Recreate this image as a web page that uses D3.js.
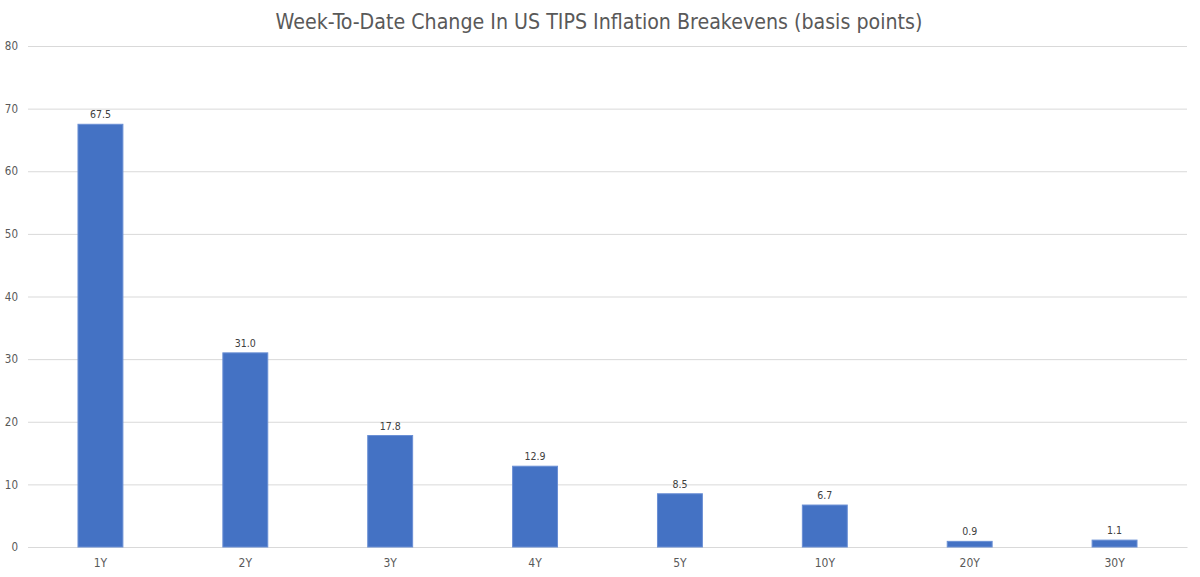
<!DOCTYPE html>
<html>
<head>
<meta charset="utf-8">
<script src="https://cdn.jsdelivr.net/npm/d3@7"></script>
<style>
  body { margin: 0; background: #fff; }
  svg { display: block; font-family: "DejaVu Sans Condensed", "Roboto", sans-serif; }
</style>
</head>
<body>
<svg id="grafica" width="1200" height="577"></svg>
<script>
// datos del gráfico
var tenors = ['1Y', '2Y', '3Y', '4Y', '5Y', '10Y', '20Y', '30Y']
var cambios = [67.5, 31.0, 17.8, 12.9, 8.5, 6.7, 0.9, 1.1]
var yTicks = [0, 10, 20, 30, 40, 50, 60, 70, 80]
var titulo = 'Week-To-Date Change In US TIPS Inflation Breakevens (basis points)'

var margin = { top: 46, right: 13, bottom: 30, left: 28 },
    width = 1200 - margin.left - margin.right,
    height = 547 - margin.top

var svg = d3.select('#grafica')

var x = d3.scaleBand()
    .domain(tenors)
    .range([margin.left, margin.left + width])
    .paddingInner(0.69)
    .paddingOuter(0.345)

var y = d3.scaleLinear()
    .domain([0, 80])
    .range([margin.top + height, margin.top])

// título
svg.append('text')
    .attr('x', 599)
    .attr('y', 29)
    .attr('text-anchor', 'middle')
    .attr('fill', '#595959')
    .style('font-size', '21.2px')
    .text(titulo)

// eje y con líneas de grilla
var yAxis = svg.append('g')
    .attr('transform', 'translate(' + margin.left + ',0)')
    .call(d3.axisLeft(y).tickValues(yTicks).tickSize(-width).tickPadding(10))

yAxis.select('.domain').remove()
yAxis.selectAll('.tick line').attr('stroke', '#d9d9d9')
yAxis.selectAll('.tick text')
    .attr('fill', '#595959')
    .style('font-size', '11.5px')
    .style('font-family', '"DejaVu Sans Condensed", Roboto, sans-serif')

// eje x
var xAxis = svg.append('g')
    .attr('transform', 'translate(0,' + (margin.top + height) + ')')
    .call(d3.axisBottom(x).tickSize(0).tickPadding(11))

xAxis.select('.domain').attr('stroke', '#d9d9d9')
xAxis.selectAll('.tick text')
    .attr('fill', '#595959')
    .style('font-size', '12px')
    .style('font-family', '"DejaVu Sans Condensed", Roboto, sans-serif')

var datos = tenors.map(function (t, i) { return { tenor: t, valor: cambios[i] } })

// barras
svg.selectAll('rect.bar')
    .data(datos)
    .enter()
    .append('rect')
    .attr('class', 'bar')
    .attr('x', function (d) { return x(d.tenor) })
    .attr('y', function (d) { return y(d.valor) })
    .attr('width', x.bandwidth())
    .attr('height', function (d) { return y(0) - y(d.valor) })
    .attr('fill', '#4472C4')
    .attr('stroke', '#6a8fd4')
    .attr('stroke-width', 1)

// etiquetas
svg.selectAll('text.lbl')
    .data(datos)
    .enter()
    .append('text')
    .attr('class', 'lbl')
    .attr('x', function (d) { return x(d.tenor) + x.bandwidth() / 2 })
    .attr('y', function (d) { return y(d.valor) - 6 })
    .attr('text-anchor', 'middle')
    .attr('fill', '#404040')
    .style('font-size', '10.5px')
    .text(function (d) { return d.valor.toFixed(1) })
</script>
</body>
</html>
